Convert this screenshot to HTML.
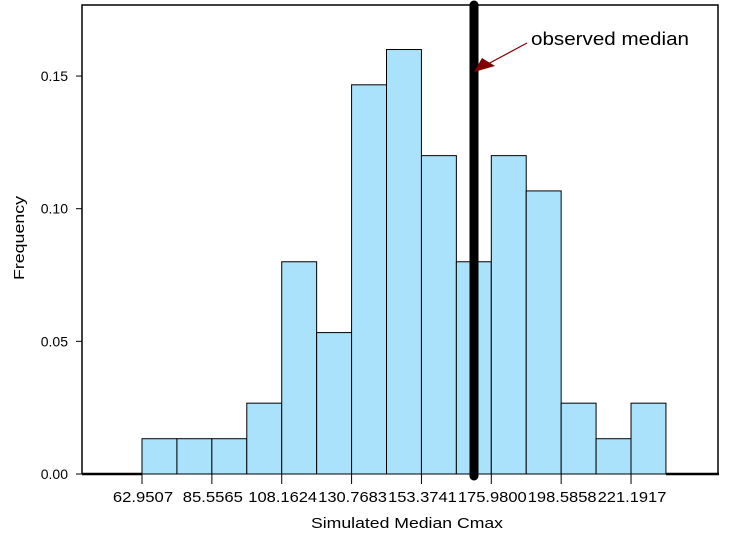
<!DOCTYPE html>
<html><head><meta charset="utf-8"><style>
body{margin:0;background:#fff}
svg text{font-family:"Liberation Sans",sans-serif;fill:#000}
</style></head><body>
<svg width="729" height="541" xmlns="http://www.w3.org/2000/svg">
<g id="bars"></g>
<g id="axes"></g>
<line x1="474" y1="5" x2="474" y2="476" stroke="#000" stroke-width="9" stroke-linecap="round"/>
<line x1="527" y1="43" x2="486" y2="65" stroke="#800000" stroke-width="1.2"/>
<polygon points="474,72 482,58 495,66" fill="#800000"/>
<text x="531" y="45" font-size="18" textLength="158" lengthAdjust="spacingAndGlyphs">observed median</text>
<text x="407" y="528" font-size="15" text-anchor="middle" textLength="192" lengthAdjust="spacingAndGlyphs">Simulated Median Cmax</text>
<text transform="translate(24,238) rotate(-90)" font-size="15" text-anchor="middle" textLength="84" lengthAdjust="spacingAndGlyphs">Frequency</text>
</svg>
<script>
const freqs=[0.0133,0.0133,0.0133,0.0267,0.08,0.0533,0.1467,0.16,0.12,0.08,0.12,0.1067,0.0267,0.0133,0.0267];
const xTickLabels=["62.9507","85.5565","108.1624","130.7683","153.3741","175.9800","198.5858","221.1917"];
const yTicks=[0,0.05,0.10,0.15];
const NS="http://www.w3.org/2000/svg";
const x0=142,bw=34.93,yBase=474,yScale=2653;
const X=i=>x0+i*bw, Y=v=>yBase-v*yScale;
function mk(t,a,p){const e=document.createElementNS(NS,t);for(const k in a)e.setAttribute(k,a[k]);p.appendChild(e);return e;}
const bars=document.getElementById('bars'),axes=document.getElementById('axes');
freqs.forEach((f,i)=>{
 const r=mk('rect',{x:X(i),y:Y(f),width:bw,height:yBase-Y(f),fill:'#aae2fc',stroke:'#000','stroke-width':1},bars);
 
 
});
const fr=mk('path',{d:'M82,474 V5 H718 V474',fill:'none',stroke:'#000','stroke-width':1.5},axes);


const b1=mk('line',{x1:82,y1:474,x2:X(0),y2:474,stroke:'#000','stroke-width':2.5},axes);


const b2=mk('line',{x1:X(freqs.length),y1:474,x2:719,y2:474,stroke:'#000','stroke-width':2.5},axes);


yTicks.forEach(v=>{
 const t=mk('text',{x:68,y:Y(v)+5,'font-size':14,'text-anchor':'end'},axes);
 t.textContent=v.toFixed(2);
 
 
 const l=mk('line',{x1:76,y1:Y(v),x2:82,y2:Y(v),stroke:'#000'},axes);
 
 
});
xTickLabels.forEach((s,i)=>{
 const x=X(i*2);
 const l=mk('line',{x1:x,y1:474,x2:x,y2:484,stroke:'#000'},axes);
 
 
 const t=mk('text',{x:x+1,y:502,'font-size':15,'text-anchor':'middle',textLength:s.length*8.6,lengthAdjust:'spacingAndGlyphs'},axes);
 t.textContent=s;
 
 
});
</script>
</body></html>
